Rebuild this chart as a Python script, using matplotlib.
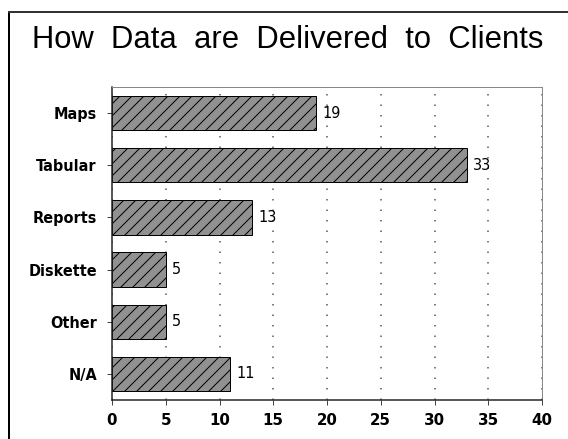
import matplotlib
matplotlib.use('Agg')
import matplotlib.pyplot as plt
from matplotlib.lines import Line2D

categories = ['Maps', 'Tabular', 'Reports', 'Diskette', 'Other', 'N/A']
counts = [19, 33, 13, 5, 5, 11]
xticks = [0, 5, 10, 15, 20, 25, 30, 35, 40]

W, H, DPI = 568, 439, 72
plt.rcParams['font.family'] = ['DejaVu Sans']
plt.rcParams['hatch.linewidth'] = 1.0

fig = plt.figure(figsize=(W / DPI, H / DPI), dpi=DPI)
fig.patch.set_facecolor('white')

# outer frame (left and top edges visible)
fig.add_artist(Line2D([9 / W, 9 / W], [0, 1 - 12 / H], color='black', lw=2, transform=fig.transFigure))
fig.add_artist(Line2D([9 / W, 1], [1 - 12 / H, 1 - 12 / H], color='#333333', lw=2, transform=fig.transFigure))

ax = fig.add_axes([112 / W, 1 - 400 / H, (542 - 112) / W, (400 - 87) / H])

ypos = list(range(len(categories)))
ax.barh(ypos, counts, height=0.66, color='#919191', edgecolor='black',
        hatch='//', linewidth=1.0)
for y, v in zip(ypos, counts):
    ax.text(v + 0.6, y, str(v), va='center', ha='left', fontsize=14.5)

ax.set_ylim(len(categories) - 0.5, -0.5)
ax.set_xlim(0, 40)
ax.set_yticks(ypos)
ax.set_yticklabels(categories, fontsize=14.5, fontweight='bold')
ax.set_xticks(xticks)
ax.set_xticklabels([str(t) for t in xticks], fontsize=15, fontweight='bold')
ax.tick_params(axis='both', direction='out', length=5, width=1, color='#444444')
ax.tick_params(axis='x', pad=8)
ax.tick_params(axis='y', pad=10)

ax.grid(axis='x', linestyle=(0, (1, 6)), color='#555555', linewidth=1.5)
ax.set_axisbelow(True)

for side in ['left', 'bottom']:
    ax.spines[side].set_linewidth(1.5)
    ax.spines[side].set_color('#222222')
for side in ['top', 'right']:
    ax.spines[side].set_linewidth(1.0)
    ax.spines[side].set_color('#888888')

fig.text(288 / W, 1 - 40 / H, 'How  Data  are  Delivered  to  Clients', ha='center', va='center',
         fontsize=31, family='Liberation Sans')

fig.savefig('out.png', dpi=DPI)
